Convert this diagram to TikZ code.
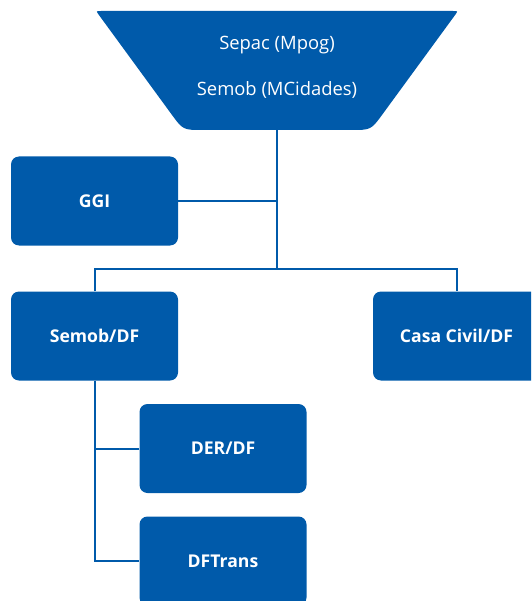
\documentclass[tikz,border=0pt]{standalone}
\usepackage{fontspec}
\setmainfont{Open Sans}
\definecolor{orgblue}{RGB}{0,90,170}
\begin{document}
\begin{tikzpicture}[x=1pt,y=-1pt,
  orgbox/.style={fill=orgblue, rounded corners=8pt, minimum width=167pt, minimum height=89pt,
    inner sep=0pt, text=white, font=\bfseries\fontsize{17.6}{21}\selectfont},
  toptext/.style={text=white, inner sep=0pt, font=\fontsize{18.4}{22}\selectfont},
  link/.style={draw=orgblue, line width=2pt}]
\path[use as bounding box, clip] (0,0) rectangle (531,601);
% top trapezoid
\fill[orgblue] (101,11) -- (453,11) .. controls (458,11) .. (455.05,15.04)
  -- (382.8,113.86) .. controls (371,130) .. (351,130)
  -- (203,130) .. controls (183,130) .. (171.2,113.86)
  -- (98.95,15.04) .. controls (96,11) .. (101,11) -- cycle;
\node[inner sep=0pt, minimum width=362pt, minimum height=119pt] (sepacbox) at (277,70.5) {};
\node[toptext] (sepac) at (277,45) {Sepac (Mpog)};
\node[toptext] (semobm) at (277,89.5) {Semob (MCidades)};
% boxes
\node[orgbox] (ggi) at (94.5,201) {GGI};
\node[orgbox] (semob) at (94.5,336) {Semob/DF};
\node[orgbox] (casa) at (456.5,336) {Casa Civil/DF};
\node[orgbox] (der) at (223,448.5) {DER/DF};
\node[orgbox] (dftrans) at (223,561) {DFTrans};
\coordinate (hub) at (277,269);
% connectors
\draw[link] (sepacbox.south) -- (hub);
\draw[link] (ggi.east) -- (ggi.east -| hub);
\draw[link] (semob.north) |- (hub) -| (casa.north);
\draw[link] (der.west) -- (der.west -| semob.south);
\draw[link] (semob.south) |- (dftrans.west);
\end{tikzpicture}
\end{document}
